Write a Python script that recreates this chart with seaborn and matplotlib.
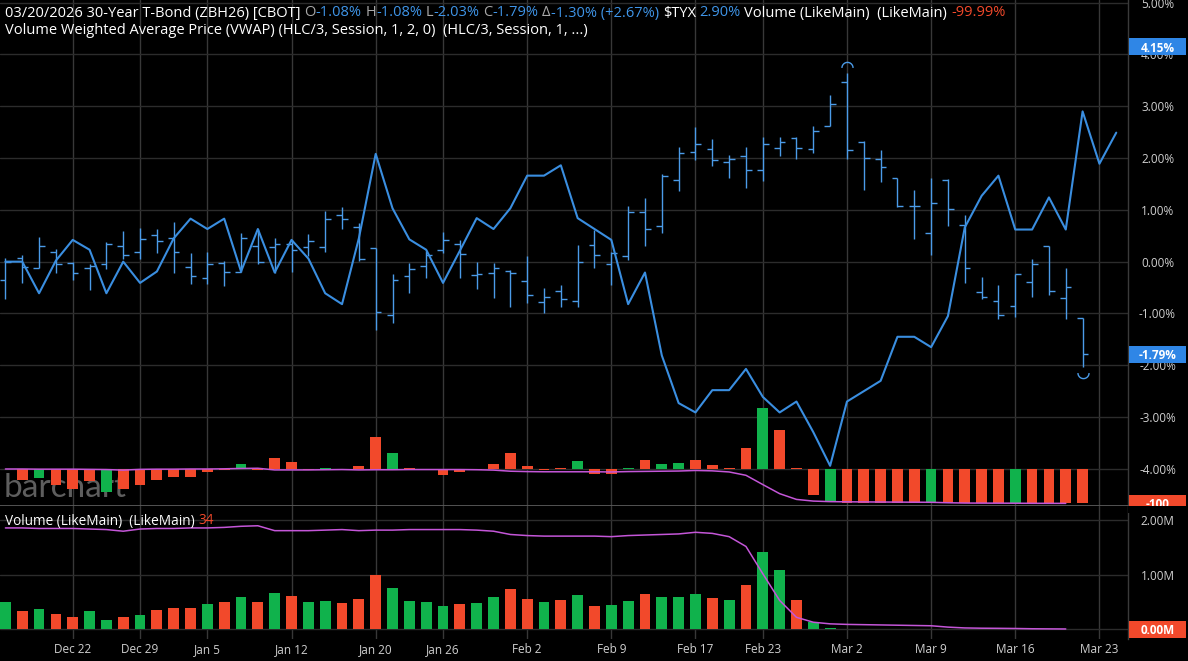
import numpy as np
import pandas as pd
import matplotlib
matplotlib.use("Agg")
import matplotlib.pyplot as plt
import seaborn as sns
from matplotlib.path import Path
from matplotlib.patches import Rectangle

sns.set_style("dark")
plt.rcParams["font.family"] = ["Open Sans", "DejaVu Sans"]

# ---------------- data ----------------
sessions = [
    "2025-12-16", "2025-12-17", "2025-12-18", "2025-12-19", "2025-12-22", "2025-12-23",
    "2025-12-24", "2025-12-26", "2025-12-29", "2025-12-30", "2025-12-31", "2026-01-02",
    "2026-01-05", "2026-01-06", "2026-01-07", "2026-01-08", "2026-01-09", "2026-01-12",
    "2026-01-13", "2026-01-14", "2026-01-15", "2026-01-16", "2026-01-20", "2026-01-21",
    "2026-01-22", "2026-01-23", "2026-01-26", "2026-01-27", "2026-01-28", "2026-01-29",
    "2026-01-30", "2026-02-02", "2026-02-03", "2026-02-04", "2026-02-05", "2026-02-06",
    "2026-02-09", "2026-02-10", "2026-02-11", "2026-02-12", "2026-02-13", "2026-02-17",
    "2026-02-18", "2026-02-19", "2026-02-20", "2026-02-23", "2026-02-24", "2026-02-25",
    "2026-02-26", "2026-02-27", "2026-03-02", "2026-03-03", "2026-03-04", "2026-03-05",
    "2026-03-06", "2026-03-09", "2026-03-10", "2026-03-11", "2026-03-12", "2026-03-13",
    "2026-03-16", "2026-03-17", "2026-03-18", "2026-03-19", "2026-03-20", "2026-03-23",
    "2026-03-24",
]
tick_dates = ["2025-12-22", "2025-12-29", "2026-01-05", "2026-01-12", "2026-01-20",
              "2026-01-26", "2026-02-02", "2026-02-09", "2026-02-17", "2026-02-23",
              "2026-03-02", "2026-03-09", "2026-03-16", "2026-03-23"]
tick_labels = ["Dec 22", "Dec 29", "Jan 5", "Jan 12", "Jan 20", "Jan 26", "Feb 2",
               "Feb 9", "Feb 17", "Feb 23", "Mar 2", "Mar 9", "Mar 16", "Mar 23"]

# 30-Year T-Bond (ZBH26), % change
zb_open = [-0.35, 0.08, -0.13, 0.19, -0.02, -0.13, -0.05, 0.30, 0.19, 0.52, 0.46, -0.11,
           -0.32, -0.02, -0.19, 0.30, 0.28, 0.34, 0.29, 0.28, 0.90, 0.66, 0.26, -1.02,
           -0.27, -0.08, 0.23, 0.35, -0.26, -0.21, -0.18, -0.37, -0.78, -0.57, -0.76, 0.33,
           -0.05, 0.10, 0.95, 0.68, 1.58, 2.12, 2.17, 1.93, 2.04, 1.77, 2.20, 2.38,
           2.17, 2.61, 3.47, 2.31, 1.98, 1.61, 1.08, 0.55, 1.58, 0.71, -0.59, -0.76,
           -0.86, -0.39, 0.30, -0.71, -1.08]
zb_high = [0.08, 0.13, 0.48, 0.24, 0.00, -0.05, 0.37, 0.60, 0.65, 0.63, 0.77, 0.16,
           0.19, 0.02, 0.56, 0.63, 0.46, 0.42, 0.54, 0.97, 1.05, 0.75, 0.26, -0.23,
           -0.03, 0.21, 0.58, 0.42, 0.00, -0.03, -0.16, 0.10, -0.50, -0.45, 0.32, 0.61,
           0.19, 1.07, 1.22, 1.70, 2.22, 2.60, 2.36, 2.05, 2.22, 2.41, 2.41, 2.41,
           2.61, 3.22, 3.64, 2.33, 2.16, 1.61, 1.38, 1.61, 1.59, 0.90, -0.29, -0.46,
           -0.24, 0.05, 0.30, -0.13, -1.08]
zb_low = [-0.73, -0.41, -0.13, -0.21, -0.35, -0.54, -0.15, 0.05, 0.05, 0.17, -0.21, -0.43,
          -0.43, -0.47, -0.19, -0.05, -0.21, -0.19, 0.10, 0.19, 0.63, 0.02, -1.31, -1.19,
          -0.60, -0.32, 0.16, -0.32, -0.53, -0.71, -0.87, -0.80, -1.00, -0.88, -0.87, -0.13,
          -0.45, 0.03, 0.30, 0.55, 1.36, 1.96, 1.84, 1.62, 1.43, 1.56, 2.04, 1.99,
          2.09, 2.61, 1.99, 1.38, 1.54, 1.06, 0.43, 0.12, 0.69, -0.42, -0.73, -1.11,
          -1.06, -0.68, -0.64, -1.11, -2.03]
zb_close = [0.00, -0.10, 0.30, -0.05, -0.21, -0.08, 0.35, 0.13, 0.44, 0.39, 0.19, -0.28,
            -0.05, -0.19, 0.46, 0.00, 0.35, 0.23, 0.39, 0.82, 0.82, 0.06, -0.98, -0.35,
            -0.15, 0.13, 0.42, 0.14, -0.24, -0.13, -0.21, -0.64, -0.68, -0.73, 0.00, 0.12,
            0.16, 0.95, 0.63, 1.65, 2.10, 2.28, 1.96, 1.99, 1.77, 2.28, 2.31, 2.20,
            2.52, 3.04, 2.15, 2.01, 1.82, 1.08, 1.08, 1.14, 1.01, -0.12, -0.68, -1.02,
            -0.24, -0.05, -0.57, -0.48, -1.79]

# $TYX comparison, % change
tyx_pct = [0.00, 0.00, -0.61, 0.02, 0.42, 0.23, -0.61, 0.00, -0.41, -0.19, 0.45, 0.83,
           0.63, 0.83, -0.19, 0.63, -0.21, 0.42, 0.06, -0.61, -0.82, 0.45, 2.08, 1.03,
           0.43, 0.23, -0.41, 0.21, 0.84, 0.63, 1.03, 1.66, 1.66, 1.86, 0.84, 0.63,
           0.42, -0.82, -0.21, -1.81, -2.73, -2.91, -2.48, -2.48, -2.07, -2.61, -2.91, -2.70,
           -3.29, -3.94, -2.70, -2.50, -2.30, -1.45, -1.45, -1.65, -1.05, 0.66, 1.27, 1.66,
           0.62, 0.62, 1.24, 0.62, 2.90, 1.89, 2.49]

# Volume (millions of contracts)
volume_m = [0.51, 0.34, 0.37, 0.28, 0.22, 0.33, 0.17, 0.22, 0.27, 0.35, 0.39, 0.39,
            0.47, 0.50, 0.59, 0.50, 0.67, 0.61, 0.50, 0.52, 0.49, 0.56, 0.99, 0.75,
            0.52, 0.50, 0.42, 0.46, 0.49, 0.59, 0.74, 0.55, 0.50, 0.53, 0.63, 0.43,
            0.44, 0.52, 0.64, 0.59, 0.60, 0.65, 0.57, 0.53, 0.82, 1.41, 1.08, 0.53,
            0.13, 0.02, 0.010, 0.008, 0.006, 0.005, 0.005, 0.006, 0.004, 0.004, 0.003, 0.003,
            0.004, 0.002, 0.002, 0.002, 0.000034]
volume_dir = ["G", "R", "G", "R", "R", "G", "G", "R", "G", "R", "R", "R",
              "G", "R", "G", "R", "G", "R", "G", "G", "R", "R", "R", "G",
              "G", "G", "G", "R", "G", "G", "R", "R", "G", "R", "G", "R",
              "G", "G", "R", "G", "G", "G", "R", "G", "R", "G", "G", "R",
              "G", "G", "R", "R", "R", "R", "R", "G", "R", "R", "R", "R",
              "G", "G", "R", "G", "R"]
volume_pct_dir = ["G", "R", "G", "R", "R", "R", "G", "R", "R", "R", "R", "R",
                  "R", "R", "G", "R", "R", "R", "R", "G", "R", "R", "R", "G",
                  "R", "R", "R", "R", "R", "R", "R", "R", "R", "R", "G", "R",
                  "R", "G", "R", "G", "G", "R", "R", "R", "R", "G", "R", "R",
                  "R", "G", "R", "R", "R", "R", "R", "G", "R", "R", "R", "R",
                  "G", "R", "R", "R", "R"]

# purple line (open interest, millions)
open_interest_m = [1.86, 1.86, 1.85, 1.85, 1.85, 1.84, 1.83, 1.80, 1.84, 1.85, 1.85, 1.86,
                   1.86, 1.87, 1.89, 1.90, 1.81, 1.81, 1.81, 1.82, 1.83, 1.81, 1.82, 1.82,
                   1.83, 1.83, 1.83, 1.83, 1.82, 1.80, 1.74, 1.72, 1.71, 1.71, 1.71, 1.71,
                   1.70, 1.72, 1.73, 1.74, 1.75, 1.78, 1.76, 1.70, 1.52, 1.02, 0.53, 0.22,
                   0.13, 0.10, 0.09, 0.085, 0.08, 0.075, 0.07, 0.065, 0.04, 0.025, 0.02, 0.018,
                   0.015, 0.010, 0.008, 0.006]

pct_ticks = [-4, -3, -2, -1, 0, 1, 2, 3, 4, 5]
vol_ticks = [0, 1, 2]
vol_tick_labels = ["", "1.00M", "2.00M"]

# ---------------- style ----------------
BG = "#000000"
BLUE_LINE = "#3a8ee0"
BLUE_BAR = "#4b9be8"
BLUE_TXT = "#3f95e8"
GREEN = "#10b24c"
RED = "#f2492b"
PURPLE = "#c456d8"
GRID_H = "#2c2c2c"
GRID_V = "#383838"
LBL = "#cfcfcf"

W, H = 1188, 661
fig = plt.figure(figsize=(W / 100, H / 100), dpi=100, facecolor=BG)

AXW = 1127.7
MAIN_BOT, VOL_BOT, SEP = 505.7, 639.0, 505.7
ax_main = fig.add_axes([0, (H - MAIN_BOT) / H, AXW / W, MAIN_BOT / H])
ax_vol = fig.add_axes([0, (H - VOL_BOT) / H, AXW / W, (VOL_BOT - SEP) / H])
ax_pct = ax_main.twinx()

for ax in (ax_main, ax_vol):
    ax.set_facecolor(BG)

n = len(zb_close)
x_zb = np.arange(n)
x_tyx = np.arange(len(tyx_pct))
x_oi = np.arange(len(open_interest_m))
tick_pos = [sessions.index(d) for d in tick_dates]

XMIN, XMAX = -0.321, 66.68

# watermark
ax_main.text(4 / W, 1 - 497 / H, "barchart", transform=fig.transFigure, fontsize=24,
             color="#5e5e5e", ha="left", va="baseline", zorder=0.5, family=["Lato", "DejaVu Sans"])

# OHLC bars
ax_main.vlines(x_zb, zb_low, zb_high, color=BLUE_BAR, lw=1.0, zorder=3)
ax_main.hlines(zb_open, x_zb - 0.34, x_zb, color=BLUE_BAR, lw=1.0, zorder=3)
ax_main.hlines(zb_close, x_zb, x_zb + 0.34, color=BLUE_BAR, lw=1.0, zorder=3)

# TYX line
sns.lineplot(x=x_tyx, y=tyx_pct, color=BLUE_LINE, lw=1.5, ax=ax_main, zorder=4)

# highest high / lowest low arcs
theta = np.linspace(0, np.pi, 25)
arc_top = Path(np.column_stack([np.cos(theta), 1 + np.sin(theta)]))
arc_bot = Path(np.column_stack([np.cos(theta), -1 - np.sin(theta)]))
hi_i = int(np.argmax(zb_high))
lo_i = int(np.argmin(zb_low))
ax_main.plot([hi_i], [zb_high[hi_i]], marker=arc_top, ms=16, mfc="none", mec=BLUE_BAR, mew=1.0, ls="none", zorder=4)
ax_main.plot([lo_i], [zb_low[lo_i]], marker=arc_bot, ms=16, mfc="none", mec=BLUE_BAR, mew=1.0, ls="none", zorder=4)

# volume percent overlay in main panel
vol_arr = np.array(volume_m)
df_pct = pd.DataFrame({"x": x_zb, "pct": vol_arr / vol_arr[0] * 100 - 100, "dir": volume_pct_dir})
sns.barplot(data=df_pct, x="x", y="pct", hue="dir", palette={"G": GREEN, "R": RED},
            native_scale=True, dodge=False, width=0.64, errorbar=None, legend=False,
            saturation=1, linewidth=0, ax=ax_pct)
oi_arr = np.array(open_interest_m)
sns.lineplot(x=x_oi, y=oi_arr / oi_arr[0] * 100 - 100, color=PURPLE, lw=1.1, ax=ax_pct)

# volume panel
df_vol = pd.DataFrame({"x": x_zb, "vol": volume_m, "dir": volume_dir})
sns.barplot(data=df_vol, x="x", y="vol", hue="dir", palette={"G": GREEN, "R": RED},
            native_scale=True, dodge=False, width=0.64, errorbar=None, legend=False,
            saturation=1, linewidth=0, ax=ax_vol)
sns.lineplot(x=x_oi, y=open_interest_m, color=PURPLE, lw=1.1, ax=ax_vol)

# ---------------- axes setup ----------------
MAIN_YLIM = (-4.71, 5.05)
PCT_YLIM = (-106.4, 1359.4)
VOL_YLIM = (-0.178, 2.268)

for ax in (ax_main, ax_pct, ax_vol):
    ax.set_xlim(XMIN, XMAX)
    ax.set_xlabel("")
    ax.set_ylabel("")
ax_main.set_ylim(*MAIN_YLIM)
ax_pct.set_ylim(*PCT_YLIM)
ax_vol.set_ylim(*VOL_YLIM)

ax_pct.set_yticks([])
ax_pct.grid(False)
for s in ax_pct.spines.values():
    s.set_visible(False)

pad_pt = (1157.5 - AXW) * 72 / 100

ax_main.yaxis.tick_right()
ax_main.set_yticks(pct_ticks)
ax_main.set_yticklabels([f"{v:.2f}%" for v in pct_ticks], ha="center")
ax_main.tick_params(axis="y", length=0, pad=pad_pt, labelcolor=LBL, labelsize=8.5)
ax_main.set_xticks(tick_pos)
ax_main.tick_params(axis="x", length=0, labelbottom=False)

ax_vol.yaxis.tick_right()
ax_vol.set_yticks(vol_ticks)
ax_vol.set_yticklabels(vol_tick_labels, ha="center")
ax_vol.tick_params(axis="y", length=0, pad=pad_pt, labelcolor=LBL, labelsize=8.5)
ax_vol.set_xticks(tick_pos)
ax_vol.set_xticklabels(tick_labels)
ax_vol.tick_params(axis="x", length=0, pad=3, labelcolor=LBL, labelsize=8.5)

for ax in (ax_main, ax_vol):
    ax.grid(True, axis="y", color=GRID_H, lw=1.0)
    ax.grid(True, axis="x", color=GRID_V, lw=1.0)
    ax.set_axisbelow(True)
    for side in ("left", "top"):
        ax.spines[side].set_visible(False)
    ax.spines["right"].set_color("#3a3a3a")
    ax.spines["right"].set_linewidth(1.0)
ax_main.spines["bottom"].set_color("#5a5a5a")
ax_main.spines["bottom"].set_linewidth(2.0)
ax_vol.spines["bottom"].set_visible(False)

# ---------------- value boxes on the right ----------------
def value_box(ax, y, text, fc, ylim, hpx):
    top_px = ax.get_position().height * H
    units_per_px = (ylim[1] - ylim[0]) / top_px
    h = hpx * units_per_px
    trans = ax.get_yaxis_transform()
    x0 = 1129 / AXW
    w = (1186 - 1129) / AXW
    ax.add_patch(Rectangle((x0, y - h / 2), w, h, transform=trans, fc=fc, ec="none",
                           clip_on=False, zorder=10))
    ax.text(x0 + w / 2, y, text, transform=trans, ha="center", va="center_baseline",
            color="white", fontsize=8.5, fontweight="bold", clip_on=False, zorder=11)

value_box(ax_main, 4.15, "4.15%", "#2f86e6", MAIN_YLIM, 17)
value_box(ax_main, zb_close[-1], f"{zb_close[-1]:.2f}%", "#2f86e6", MAIN_YLIM, 17)
value_box(ax_pct, -100, "-100", RED, PCT_YLIM, 17)
value_box(ax_vol, 0, "0.00M", RED, VOL_YLIM, 17)

# cover the part of the -100 box below the panel separator
fig.patches.append(Rectangle((AXW / W, (H - 513) / H), (W - AXW) / W, (513 - 505.7) / H,
                             transform=fig.transFigure, fc=BG, ec="none", zorder=5))

# ---------------- header texts ----------------
fig.canvas.draw()
renderer = fig.canvas.get_renderer()

def text_width(s, size, weight="normal"):
    t = fig.text(0, 0, s, fontsize=size, fontweight=weight)
    bb = t.get_window_extent(renderer)
    t.remove()
    return bb.width

def draw_pieces(pieces, x0, ybase, size):
    sp = text_width("i i", size) - text_width("ii", size)
    x = x0
    for txt, col, nsp in pieces:
        t = fig.text(x / W, 1 - ybase / H, txt, color=col, fontsize=size,
                     ha="left", va="baseline", zorder=20)
        bb = t.get_window_extent(renderer)
        x = bb.x1 + nsp * sp

WHITE = "#ffffff"
GREY = "#a8a8a8"
line1 = [("03/20/2026 30-Year T-Bond (ZBH26) [CBOT]", WHITE, 1),
         ("O", GREY, 0), ("-1.08%", BLUE_TXT, 1),
         ("H", GREY, 0), ("-1.08%", BLUE_TXT, 1),
         ("L", GREY, 0), ("-2.03%", BLUE_TXT, 1),
         ("C", GREY, 0), ("-1.79%", BLUE_TXT, 1),
         ("Δ", GREY, 0), ("-1.30% (+2.67%)", BLUE_TXT, 1),
         ("$TYX", WHITE, 1), ("2.90%", BLUE_TXT, 1),
         ("Volume (LikeMain)  (LikeMain)", WHITE, 1), ("-99.99%", RED, 0)]
line2 = [("Volume Weighted Average Price (VWAP) (HLC/3, Session, 1, 2, 0)  (HLC/3, Session, 1, ...)", WHITE, 0)]
vol_title = [("Volume (LikeMain)  (LikeMain)", WHITE, 1), ("34", RED, 0)]

draw_pieces(line1, 5, 16.5, 10.5)
draw_pieces(line2, 5, 34, 10.5)
draw_pieces(vol_title, 5, 524.5, 9.8)

fig.savefig("out.png", dpi=100, facecolor=BG)
